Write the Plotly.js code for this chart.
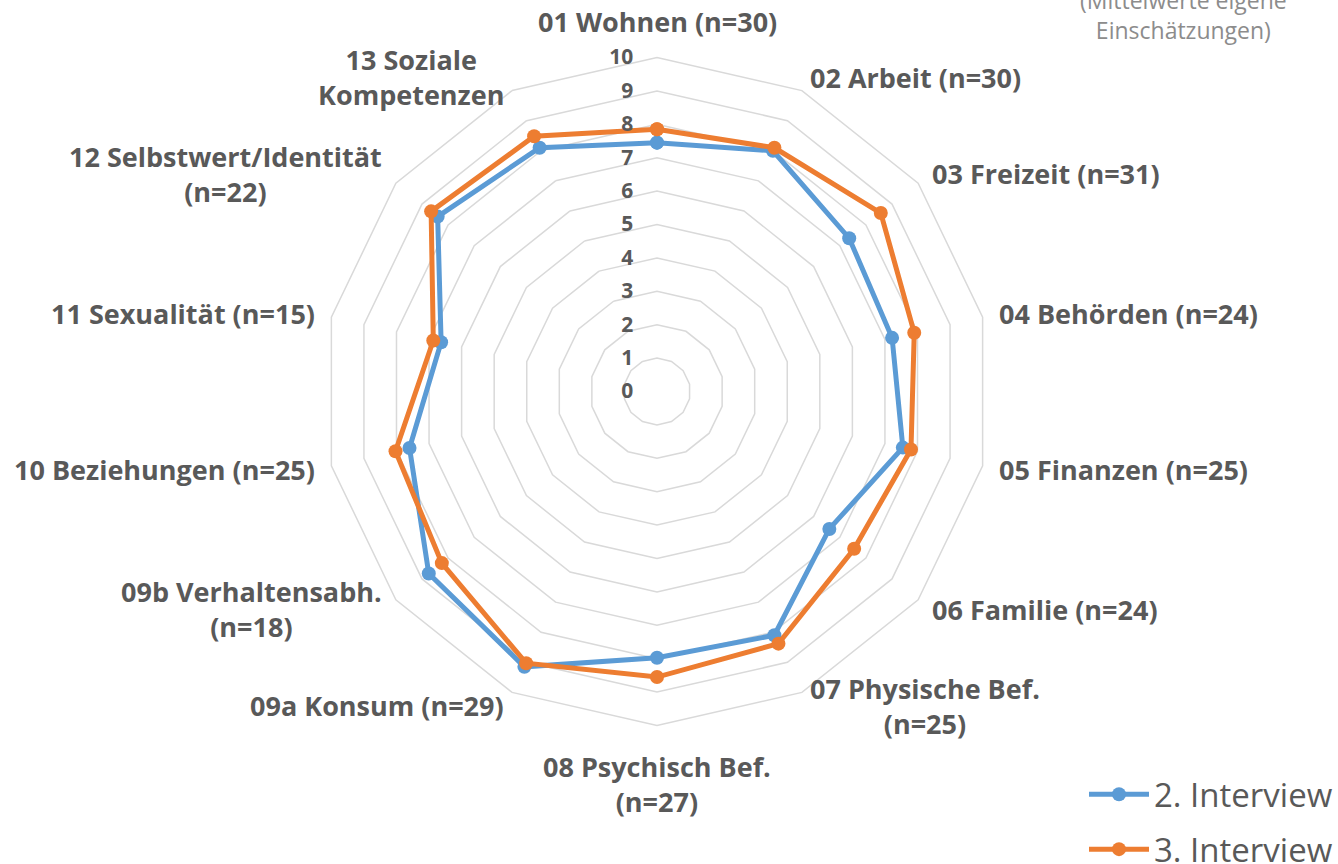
<!DOCTYPE html>
<html>
<head>
<meta charset="utf-8">
<script src="https://cdn.plot.ly/plotly-3.0.1.min.js"></script>
<style>html,body{margin:0;padding:0;background:#fff;} #chart{width:1338px;height:864px;}</style>
</head>
<body>
<div id="chart"></div>
<script>
const categories = [
  '01 Wohnen (n=30)',
  '02 Arbeit (n=30)',
  '03 Freizeit (n=31)',
  '04 Behörden (n=24)',
  '05 Finanzen (n=25)',
  '06 Familie (n=24)',
  '07 Physische Bef.<br>(n=25)',
  '08 Psychisch Bef.<br>(n=27)',
  '09a Konsum (n=29)',
  '09b Verhaltensabh.<br>(n=18)',
  '10 Beziehungen (n=25)',
  '11 Sexualität (n=15)',
  '12 Selbstwert/Identität<br>(n=22)',
  '13 Soziale<br>Kompetenzen'
];
const interview2 = [7.45, 8.0, 7.36, 7.22, 7.55, 6.6, 8.1, 7.97, 9.15, 8.74, 7.6, 6.63, 8.4, 8.1];
const interview3 = [7.85, 8.1, 8.57, 7.9, 7.8, 7.55, 8.38, 8.55, 9.03, 8.24, 8.03, 6.87, 8.65, 8.48];
const seriesNames = ['2. Interview', '3. Interview'];
const radialTicks = [0, 1, 2, 3, 4, 5, 6, 7, 8, 9, 10];
const titleText = '(Mittelwerte eigene<br>Einschätzungen)';

const colors = ['#5B9BD5', '#ED7D31'];
function closed(a) { return a.concat([a[0]]); }

const traces = [interview2, interview3].map((vals, i) => ({
  type: 'scatterpolar',
  mode: 'lines+markers',
  r: closed(vals),
  theta: closed(categories),
  name: seriesNames[i],
  legendgroup: 'g' + i,
  line: {color: colors[i], width: 5},
  marker: {color: colors[i], size: 14},
  cliponaxis: false
}));

const cx = 657, cy = 391.5, R = 334, W = 1338, H = 864;
const labelFont = {size: 27, color: '#595959', family: '"Open Sans", sans-serif', weight: 'bold'};

// category labels placed around the outer ring, derived from each category's angle
const catAnnotations = categories.map((c, i) => {
  const a = i * 2 * Math.PI / categories.length;
  const s = Math.sin(a), co = Math.cos(a);
  const pad = co < -0.95 ? 20 : 15;
  const px = cx + (R + pad) * s;
  const py = cy - (R + pad) * co;
  return {
    xref: 'paper', yref: 'paper',
    x: px / W, y: (H - py) / H,
    xanchor: Math.abs(s) < 0.2 ? 'center' : (s > 0 ? 'left' : 'right'),
    yanchor: co > 0.95 ? 'bottom' : (co < -0.95 ? 'top' : 'middle'),
    text: c, showarrow: false, align: 'center',
    font: labelFont
  };
});

const layout = {
  width: W, height: H,
  margin: {l: 0, r: 0, t: 0, b: 0, autoexpand: false},
  paper_bgcolor: '#ffffff',
  font: {family: '"Open Sans", sans-serif', color: '#595959'},
  polar: {
    domain: {x: [(cx - R) / W, (cx + R) / W], y: [(H - cy - R) / H, (H - cy + R) / H]},
    gridshape: 'linear',
    bgcolor: 'rgba(0,0,0,0)',
    radialaxis: {
      range: [0, 10],
      tickvals: radialTicks,
      ticktext: radialTicks.map(String),
      angle: 90,
      side: 'counterclockwise',
      tickangle: 90,
      showline: false,
      ticks: 'outside',
      ticklen: 16,
      tickcolor: 'rgba(0,0,0,0)',
      gridcolor: '#d9d9d9',
      gridwidth: 1.5,
      tickfont: {size: 21, color: '#595959', family: '"Open Sans", sans-serif', weight: 'bold'}
    },
    angularaxis: {
      type: 'category',
      categoryarray: categories,
      direction: 'clockwise',
      rotation: 90,
      showgrid: false,
      showline: true,
      linecolor: '#d9d9d9',
      linewidth: 1.5,
      ticks: '',
      showticklabels: false
    }
  },
  showlegend: true,
  legend: {
    x: 1, xanchor: 'right', y: -0.0154, yanchor: 'bottom',
    font: {size: 33, color: '#595959'},
    itemwidth: 60,
    tracegroupgap: 9,
    bgcolor: 'rgba(0,0,0,0)'
  },
  annotations: catAnnotations.concat([{
    xref: 'paper', yref: 'paper', x: 1183 / W, y: 1 + 18 / H,
    xanchor: 'center', yanchor: 'top',
    text: titleText, showarrow: false, align: 'center',
    font: {size: 23, color: '#8c8c8c'}
  }])
};

Plotly.newPlot('chart', traces, layout, {displayModeBar: false, staticPlot: true});
</script>
</body>
</html>
